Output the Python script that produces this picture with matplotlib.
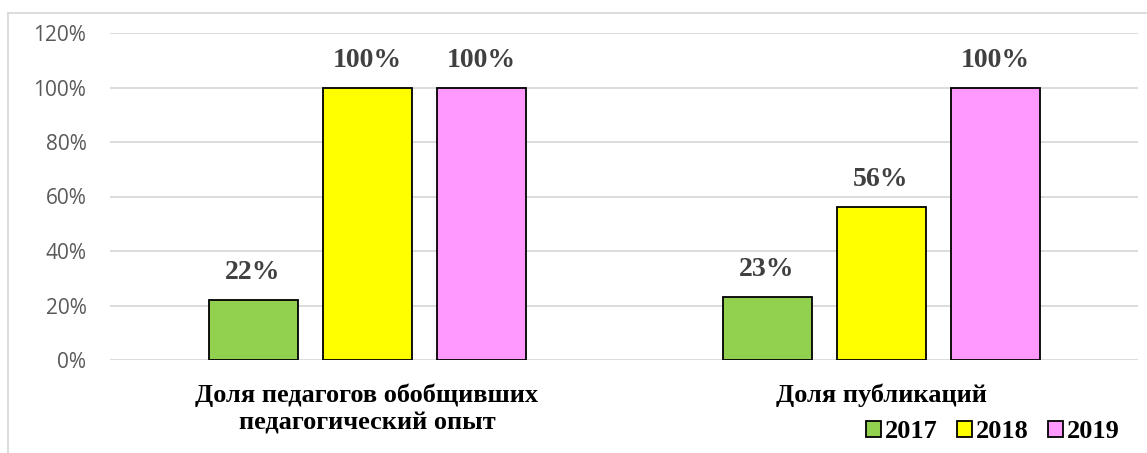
import matplotlib
matplotlib.use("Agg")
import matplotlib.pyplot as plt
import numpy as np
from matplotlib.patches import Rectangle
from matplotlib.lines import Line2D

categories = ["Доля педагогов обобщивших\nпедагогический опыт", "Доля публикаций"]
years = ["2017", "2018", "2019"]
values_2017 = [22, 23]
values_2018 = [100, 56]
values_2019 = [100, 100]
colors = ["#92d050", "#ffff00", "#ff99ff"]

series = [values_2017, values_2018, values_2019]

fig = plt.figure(figsize=(11.47, 4.53), dpi=100)
W, H = 1147, 453
ax = fig.add_axes([110 / W, 1 - 360 / H, (1138 - 110) / W, (360 - 33) / H])

x = np.arange(len(categories))
width = 89 / 514
step = 114 / 514
for i, (vals, col) in enumerate(zip(series, colors)):
    pos = x + (i - 1) * step
    ax.bar(pos, vals, width, color=col, edgecolor="black", linewidth=1.3,
           label=years[i], zorder=3)
    for xp, v in zip(pos, vals):
        ax.text(xp, v + 5.5, f"{v}%", ha="center", va="bottom", fontsize=20,
                fontweight="bold", family="Liberation Serif", color="#404040")

ax.set_xlim(-0.5, 1.5)
ax.set_ylim(0, 120)
ax.set_yticks(np.arange(0, 121, 20))
ax.set_yticklabels([f"{t}%" for t in range(0, 121, 20)], fontsize=15,
                   family="Open Sans", color="#595959")
ax.tick_params(axis="y", length=0, pad=17)
ax.tick_params(axis="x", length=0, pad=17)
ax.set_xticks(x)
ax.set_xticklabels(categories, fontsize=19, fontweight="bold",
                   family="Liberation Serif", color="black", linespacing=1.25)
ax.grid(axis="y", color="#d9d9d9", linewidth=1.3, zorder=0)
for s in ax.spines.values():
    s.set_visible(False)

handles = [Rectangle((0, 0), 1, 1, facecolor=c, edgecolor="black", linewidth=1.3) for c in colors]
fig.legend(handles, years, loc="center", bbox_to_anchor=(993 / W, 1 - 432 / H),
           ncol=3, frameon=False, handlelength=0.55, handleheight=0.55,
           handletextpad=0.15, columnspacing=0.75,
           prop={"family": "Liberation Serif", "weight": "bold", "size": 19})

# chart frame
fig.add_artist(Line2D([8 / W, 8 / W], [0, 1 - 13 / H], transform=fig.transFigure,
                      color="#d9d9d9", linewidth=1.3))
fig.add_artist(Line2D([8 / W, 1], [1 - 13 / H, 1 - 13 / H], transform=fig.transFigure,
                      color="#d9d9d9", linewidth=1.3))

fig.savefig("out.png", dpi=100)
